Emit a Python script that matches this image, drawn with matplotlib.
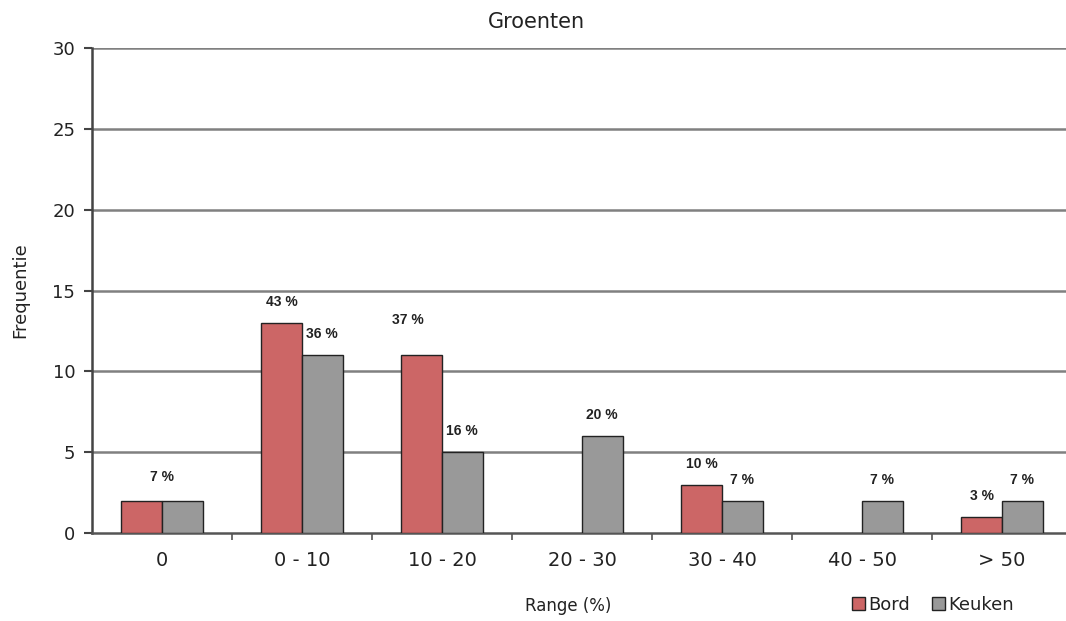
import matplotlib
matplotlib.use("Agg")
import matplotlib.pyplot as plt
import numpy as np
from matplotlib.patches import Patch

categories = ["0", "0 - 10", "10 - 20", "20 - 30", "30 - 40", "40 - 50", "> 50"]
bord = [2, 13, 11, 0, 3, 0, 1]
keuken = [2, 11, 5, 6, 2, 2, 2]
# percentage labels per bar (None = no label); the first group has one shared label
bord_pct = [None, "43 %", "37 %", None, "10 %", None, "3 %"]
keuken_pct = [None, "36 %", "16 %", "20 %", "7 %", "7 %", "7 %"]
group_pct = ["7 %", None, None, None, None, None, None]

W, H = 1066, 621
fig = plt.figure(figsize=(W / 100, H / 100), dpi=100)
left_px, right_px, top_px, bot_px = 92, 1066, 48, 533
ax = fig.add_axes([left_px / W, 1 - bot_px / H, (right_px - left_px) / W, (bot_px - top_px) / H])

cat_px = 140.0
x = np.arange(len(categories))
bw = 0.29
red = "#cc6666"
grey = "#999999"
edge = "#222222"

ax.set_ylim(0, 30)
ax.set_xlim(-0.5, -0.5 + (right_px - left_px) / cat_px)

for yv in range(5, 31, 5):
    ax.axhline(yv, color="#808080", lw=1.8, zorder=0)

bord_lw = [1.0 if v > 0 else 0 for v in bord]
keuken_lw = [1.0 if v > 0 else 0 for v in keuken]
ax.bar(x - bw / 2, bord, width=bw, color=red, edgecolor=edge, linewidth=bord_lw, zorder=3)
ax.bar(x + bw / 2, keuken, width=bw, color=grey, edgecolor=edge, linewidth=keuken_lw, zorder=3)

lab_kw = dict(ha="center", va="bottom", fontsize=10, fontweight="bold",
              family="Liberation Sans", color="#222222", textcoords="offset points")
for i in range(len(categories)):
    if bord_pct[i]:
        dy = 10 if bord_pct[i] != "37 %" else 20
        dx = 0 if bord_pct[i] != "37 %" else -10
        ax.annotate(bord_pct[i], (x[i] - bw / 2, bord[i]), xytext=(dx, dy), **lab_kw)
    if keuken_pct[i]:
        ax.annotate(keuken_pct[i], (x[i] + bw / 2, keuken[i]), xytext=(0, 10), **lab_kw)
    if group_pct[i]:
        ax.annotate(group_pct[i], (x[i], max(bord[i], keuken[i])), xytext=(0, 12), **lab_kw)

for s in ["top", "right"]:
    ax.spines[s].set_visible(False)
ax.spines["left"].set_color("#444444")
ax.spines["left"].set_linewidth(1.8)
ax.spines["bottom"].set_color("#555555")
ax.spines["bottom"].set_linewidth(1.8)

ax.set_yticks(range(0, 31, 5))
ax.tick_params(axis="y", length=6, width=1.5, color="#444444", labelsize=13,
               labelcolor="#222222", pad=6)
ax.set_xticks(x)
ax.set_xticklabels(categories)
ax.tick_params(axis="x", length=0, labelsize=14, labelcolor="#222222", pad=13)
ax.set_xticks(np.arange(0.5, len(categories) - 0.5, 1), minor=True)
ax.tick_params(axis="x", which="minor", length=5, width=1.2, color="#555555")

fig.text(536 / W, 1 - 22 / H, "Groenten", ha="center", va="center", fontsize=15, color="#222222")
fig.text(20 / W, 1 - 290 / H, "Frequentie", ha="center", va="center", rotation=90,
         fontsize=13, color="#222222")
fig.text(568 / W, 1 - 606 / H, "Range (%)", ha="center", va="center", fontsize=12, color="#222222")

handles = [Patch(facecolor=red, edgecolor=edge, label="Bord"),
           Patch(facecolor=grey, edgecolor=edge, label="Keuken")]
fig.legend(handles=handles, loc="center", bbox_to_anchor=(933 / W, 1 - 605 / H), ncol=2,
           frameon=False, fontsize=13, handlelength=0.7, handleheight=0.7,
           handletextpad=0.2, columnspacing=1.2, labelcolor="#222222")

fig.savefig("out.png", dpi=100)
